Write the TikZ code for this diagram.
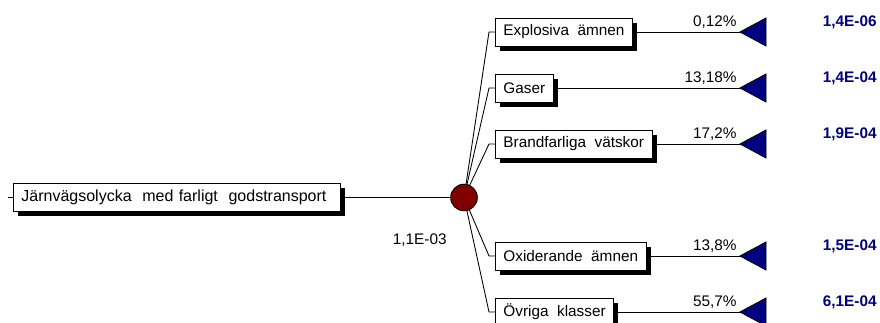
\documentclass[tikz,border=0pt]{standalone}
\usepackage{fontspec}
\setmainfont{Liberation Sans}
\usetikzlibrary{positioning,shadows}
\definecolor{navyblue}{RGB}{0,0,128}
\definecolor{darkred}{RGB}{128,0,0}

\begin{document}
\begin{tikzpicture}[x=0.75pt,y=-0.75pt,line width=0.65pt,
  box/.style={draw,fill=white,anchor=west,minimum height=21pt,inner xsep=6pt,
    font=\fontsize{11.5}{13}\selectfont,
    drop shadow={shadow xshift=3.5pt,shadow yshift=-3.5pt,opacity=1,fill=black}},
  chance/.style={circle,draw,fill=darkred,minimum size=20pt,inner sep=0pt},
  pct/.style={anchor=base east,inner sep=0pt,font=\fontsize{11.5}{13}\selectfont},
  val/.style={anchor=base east,inner sep=0pt,text=navyblue,font=\fontsize{11.5}{13}\selectfont\bfseries}]

\useasboundingbox (0,0) rectangle (880,323);

% root and chance node
\node[box,text width=233pt,align=left,font=\fontsize{12}{14}\selectfont] (root) at (13,197.5)
  {Järnvägsolycka\ \ med farligt\ \ godstransport};
\coordinate (stub) at (8,197.5);
\draw (stub) -- (root);

\node[chance] (c) at (464,197.5) {};
\draw (root) -- (c);
\node[pct] (freq) at (447,245) {1,1E-03};

% branches
\foreach \i/\txt/\y/\p/\v in {1/Explosiva\ \ ämnen/32/{0,12\%}/{1,4E-06},
    2/Gaser/88/{13,18\%}/{1,4E-04},
    3/Brandfarliga\ \ vätskor/144/{17,2\%}/{1,9E-04},
    4/Oxiderande\ \ ämnen/256/{13,8\%}/{1,5E-04},
    5/Övriga\ \ klasser/312/{55,7\%}/{6,1E-04}}
  {\node[box] (b\i) at (495,\y) {\txt};
   \coordinate (k\i) at (489,\y);
   \coordinate (t\i) at (740,\y);
   \draw (c) -- (k\i) -- (b\i);
   \draw (b\i) -- (t\i);
   \draw[fill=navyblue] (t\i) -- ++(26,-14) -- ++(0,28) -- cycle;
   \node[pct] (p\i) at (737,\y-5.5) {\p};
   \node[val] (v\i) at (877,\y-5.5) {\v};}

\end{tikzpicture}
\end{document}
